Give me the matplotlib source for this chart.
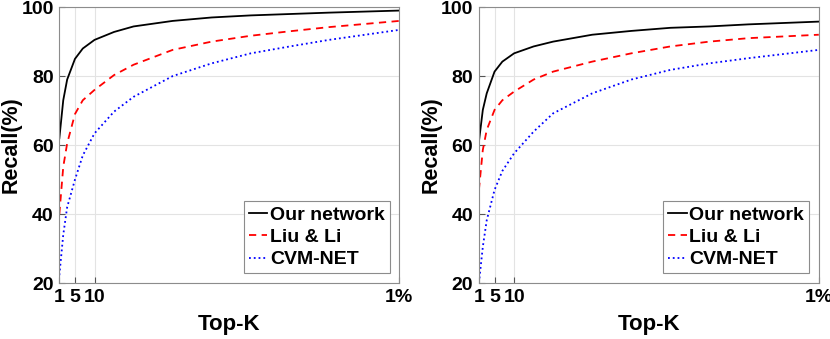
import matplotlib.pyplot as plt
import numpy as np

plt.rcParams['font.family'] = ['Liberation Sans', 'DejaVu Sans']
plt.rcParams['font.weight'] = 'bold'

# Top-K positions (1% of the database is K = 88)
k_vals = [1, 2, 3, 5, 7, 10, 15, 20, 30, 40, 50, 60, 70, 88]

# left panel
left_ours = [62, 73, 79, 85, 88, 90.5, 92.8, 94.4, 96, 97, 97.6, 98, 98.4, 99]
left_liu = [40, 53.7, 60.5, 69, 73, 76, 80.3, 83.3, 87.6, 90, 91.7, 93, 94.2, 96]
left_cvm = [22.3, 34, 42, 50, 57, 63.4, 69.7, 74, 80, 83.7, 86.6, 88.6, 90.5, 93.4]

# right panel
right_ours = [61, 70.2, 75, 81.3, 84.2, 86.6, 88.6, 90, 92, 93.1, 94, 94.4, 95, 95.8]
right_liu = [47, 58.6, 64.4, 70.2, 73, 75.5, 79, 81.3, 84.2, 86.6, 88.6, 90, 91, 92]
right_cvm = [20, 30.5, 38.2, 47, 52.5, 57.6, 63.9, 69.2, 75, 79, 81.8, 83.7, 85.2, 87.6]

labels = ['Our network', 'Liu & Li', 'CVM-NET']
xtick_pos = [1, 5, 10, 88]
xtick_labels = ['1', '5', '10', '1%']

fig = plt.figure(figsize=(8.3, 3.39), dpi=100)
ax1 = fig.add_axes([0.0715, 0.165, 0.4095, 0.814])
ax2 = fig.add_axes([0.577, 0.165, 0.4095, 0.814])

for ax, ours, liu, cvm in [(ax1, left_ours, left_liu, left_cvm),
                           (ax2, right_ours, right_liu, right_cvm)]:
    ax.plot(k_vals, ours, '-', color='black', lw=1.3, label=labels[0])
    ax.plot(k_vals, liu, '--', color='red', lw=1.3, label=labels[1], dashes=(4, 3))
    ax.plot(k_vals, cvm, ':', color='blue', lw=1.3, label=labels[2])
    ax.set_xlim(1, 88)
    ax.set_ylim(20, 100)
    ax.set_xticks(xtick_pos)
    ax.set_xticklabels(xtick_labels)
    ax.set_yticks([20, 40, 60, 80, 100])
    ax.grid(True, color='#e3e3e3', lw=0.8)
    ax.tick_params(direction='in', labelsize=14, length=4, color='#555555', pad=4)
    for s in ax.spines.values():
        s.set_color('#8c8c8c')
        s.set_linewidth(0.8)
    ax.set_xlabel('Top-K', fontsize=16, fontweight='bold', labelpad=6)
    ax.set_ylabel('Recall(%)', fontsize=15.5, fontweight='bold')
    ax.yaxis.set_label_coords(-0.11, 0.5)
    leg = ax.legend(loc='lower right', fontsize=14, handlelength=0.95, handletextpad=0.15,
                    labelspacing=0.25, borderpad=0.25, borderaxespad=0.5, fancybox=False,
                    framealpha=1, edgecolor='#8c8c8c')
    leg.get_frame().set_linewidth(0.8)

fig.savefig('out.png', dpi=100)
